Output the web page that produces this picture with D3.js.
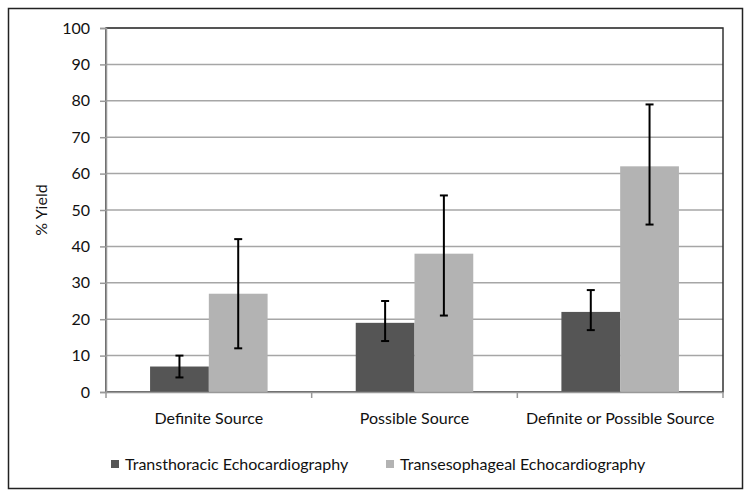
<!DOCTYPE html>
<html lang="en">
  <head>
    <meta charset="UTF-8" />
    <title>Yield chart</title>
    <style>
      body { margin: 0; background: #fff; }
      svg text { font-family: Lato, "Open Sans", sans-serif; fill: #111; }
    </style>
  </head>
  <body>
    <svg id="chart" width="751" height="498"></svg>

    <script src="https://d3js.org/d3.v7.min.js"></script>
    <script>
      // data
      const categories = ["Definite Source", "Possible Source", "Definite or Possible Source"];
      const seriesNames = ["Transthoracic Echocardiography", "Transesophageal Echocardiography"];
      const tte = [7, 19, 22];
      const tee = [27, 38, 62];
      const tteLow = [4, 14, 17];
      const tteHigh = [10, 25, 28];
      const teeLow = [12, 21, 46];
      const teeHigh = [42, 54, 79];
      const yTicks = [0, 10, 20, 30, 40, 50, 60, 70, 80, 90, 100];
      const colors = ["#555555", "#b3b3b3"];

      const svg = d3.select("#chart");
      const m = { left: 106, top: 28, right: 723, bottom: 392 };
      const fs = 16;

      // outer frame
      svg.append("rect")
        .attr("x", 8.5).attr("y", 8.5)
        .attr("width", 734).attr("height", 480)
        .attr("fill", "none").attr("stroke", "#222").attr("stroke-width", 1.5);

      const x = d3.scaleBand().domain(categories).range([m.left, m.right]).paddingInner(0).paddingOuter(0);
      const x1 = d3.scaleBand().domain([0, 1]).range([0, x.bandwidth()]).paddingOuter(0.75).paddingInner(0);
      const y = d3.scaleLinear().domain([0, 100]).range([m.bottom, m.top]);

      // gridlines
      svg.append("g")
        .selectAll("line")
        .data(yTicks.filter(d => d > 0))
        .join("line")
        .attr("x1", m.left).attr("x2", m.right)
        .attr("y1", d => y(d)).attr("y2", d => y(d))
        .attr("stroke", "#a6a6a6").attr("stroke-width", 1.5);

      // plot area border (top + right dark)
      svg.append("rect")
        .attr("x", m.left).attr("y", m.top)
        .attr("width", m.right - m.left).attr("height", m.bottom - m.top)
        .attr("fill", "none").attr("stroke", "#333").attr("stroke-width", 1.5);

      // bars
      const rows = categories.map((c, i) => ({
        cat: c,
        vals: [
          { s: 0, v: tte[i], lo: tteLow[i], hi: tteHigh[i] },
          { s: 1, v: tee[i], lo: teeLow[i], hi: teeHigh[i] }
        ]
      }));

      const groups = svg.append("g")
        .selectAll("g")
        .data(rows)
        .join("g")
        .attr("transform", d => `translate(${x(d.cat)},0)`);

      groups.selectAll("rect")
        .data(d => d.vals)
        .join("rect")
        .attr("x", d => x1(d.s))
        .attr("width", x1.bandwidth())
        .attr("y", d => y(d.v))
        .attr("height", d => y(0) - y(d.v))
        .attr("fill", d => colors[d.s]);

      // error bars
      const err = groups.selectAll("g.err")
        .data(d => d.vals)
        .join("g")
        .attr("class", "err")
        .attr("stroke", "#000")
        .attr("stroke-width", 2);
      const cx = d => x1(d.s) + x1.bandwidth() / 2;
      err.append("line")
        .attr("x1", cx).attr("x2", cx)
        .attr("y1", d => y(d.lo)).attr("y2", d => y(d.hi));
      err.append("line")
        .attr("x1", d => cx(d) - 4).attr("x2", d => cx(d) + 4)
        .attr("y1", d => y(d.lo)).attr("y2", d => y(d.lo));
      err.append("line")
        .attr("x1", d => cx(d) - 4).attr("x2", d => cx(d) + 4)
        .attr("y1", d => y(d.hi)).attr("y2", d => y(d.hi));

      // y axis
      const yAxis = svg.append("g")
        .attr("transform", `translate(${m.left},0)`)
        .call(d3.axisLeft(y).tickValues(yTicks).tickSize(6).tickPadding(10));
      yAxis.select(".domain").attr("stroke", "#999").attr("stroke-width", 1.5);
      yAxis.selectAll(".tick line").attr("stroke", "#999").attr("stroke-width", 1.5);
      yAxis.selectAll(".tick text").attr("font-size", fs).attr("fill", "#111");

      // x axis
      const xAxis = svg.append("g")
        .attr("transform", `translate(0,${m.bottom})`)
        .call(d3.axisBottom(x).tickSize(0).tickPadding(21));
      xAxis.select(".domain").attr("stroke", "#999").attr("stroke-width", 1.5);
      xAxis.selectAll(".tick text").attr("font-size", fs).attr("fill", "#111");
      // category separator ticks
      svg.append("g")
        .selectAll("line")
        .data(x.domain().map(d => x(d)).concat([m.right]))
        .join("line")
        .attr("x1", d => d).attr("x2", d => d)
        .attr("y1", m.bottom).attr("y2", m.bottom + 6)
        .attr("stroke", "#999").attr("stroke-width", 1.5);

      // y axis title
      svg.append("text")
        .attr("transform", `translate(47,${(m.top + m.bottom) / 2}) rotate(-90)`)
        .attr("text-anchor", "middle")
        .attr("font-size", fs)
        .text("% Yield");

      // legend
      const legendX = [111, 386];
      const legend = svg.append("g")
        .selectAll("g")
        .data(seriesNames)
        .join("g")
        .attr("transform", (d, i) => `translate(${legendX[i]},460)`);
      legend.append("rect")
        .attr("width", 8).attr("height", 8)
        .attr("fill", (d, i) => colors[i]);
      legend.append("text")
        .attr("x", 14).attr("y", 10)
        .attr("font-size", fs)
        .text(d => d);
    </script>
  </body>
</html>
